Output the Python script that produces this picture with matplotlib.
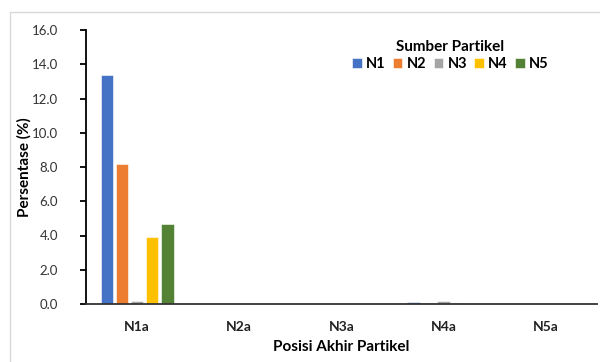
import matplotlib.pyplot as plt
import numpy as np
from matplotlib.patches import Rectangle

plt.rcParams['font.family'] = ['Lato', 'DejaVu Sans']

positions = ['N1a', 'N2a', 'N3a', 'N4a', 'N5a']
sources = ['N1', 'N2', 'N3', 'N4', 'N5']
colors = ['#4472C4', '#ED7D31', '#A5A5A5', '#FFC000', '#548235']

# percentage of particles from each source ending at each position
n1 = [13.4, 0.0, 0.0, 0.12, 0.0]
n2 = [8.2, 0.0, 0.0, 0.06, 0.0]
n3 = [0.15, 0.0, 0.0, 0.15, 0.0]
n4 = [3.9, 0.0, 0.0, 0.05, 0.0]
n5 = [4.7, 0.0, 0.0, 0.0, 0.0]
series = [n1, n2, n3, n4, n5]

fig = plt.figure(figsize=(6, 3.62), dpi=100)
# light chart-area frame
fig.patches.append(Rectangle((10 / 600, -0.01), 1.0, 1 - 12 / 362 + 0.01,
                             transform=fig.transFigure, fill=False,
                             edgecolor='#d9d9d9', linewidth=1.0))
ax = fig.add_axes([86 / 600, 1 - 304 / 362, 511 / 600, 274 / 362])

x = np.arange(len(positions))
slot = 0.148
for i, (name, vals) in enumerate(zip(sources, series)):
    ax.bar(x + (i - 2) * slot, vals, width=slot * 0.82, color=colors[i],
           label=name, edgecolor='white', linewidth=0.4, zorder=2)

ax.set_xlim(-0.5, 4.5)
ax.set_ylim(0, 16)
ax.set_yticks(np.arange(0, 16.1, 2))
ax.set_yticklabels([f'{v:.1f}' for v in np.arange(0, 16.1, 2)], fontsize=9.5,
                   color='#333333')
ax.set_xticks(x)
ax.set_xticklabels(positions, fontsize=10, fontweight='bold', color='#222222')

ax.spines['top'].set_visible(False)
ax.spines['right'].set_visible(False)
ax.spines['left'].set_linewidth(1.3)
ax.spines['bottom'].set_linewidth(1.3)
ax.spines['bottom'].set_color('#333333')
ax.tick_params(axis='x', length=0, pad=12)
ax.tick_params(axis='y', length=4, width=1.3, pad=16)

ax.set_xlabel('Posisi Akhir Partikel', fontsize=11, fontweight='bold',
              labelpad=5)
ax.set_ylabel('Persentase (%)', fontsize=11, fontweight='bold')
ax.yaxis.set_label_coords(-0.106, 0.5)

leg = ax.legend(title='Sumber Partikel', ncol=5, frameon=False,
                loc='upper center', bbox_to_anchor=(0.713, 0.985),
                fontsize=10.5, title_fontproperties={'weight': 'bold', 'size': 11},
                handlelength=0.65, handleheight=0.65, handletextpad=0.3,
                columnspacing=0.5, borderaxespad=0, labelspacing=0.2)
for t in leg.get_texts():
    t.set_fontweight('bold')

fig.savefig('out.png', dpi=100)
